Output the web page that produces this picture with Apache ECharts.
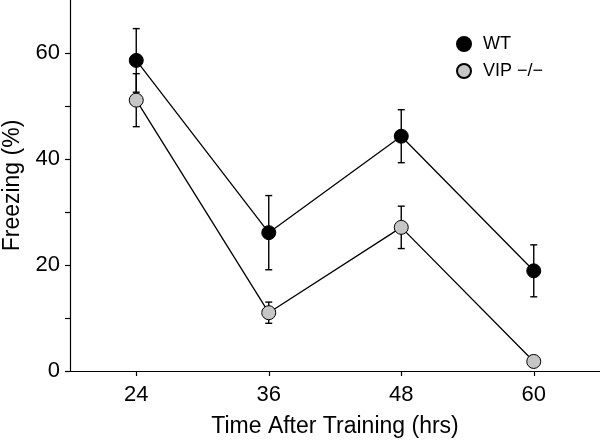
<!DOCTYPE html>
<html>
<head>
<meta charset="utf-8">
<script src="https://cdn.jsdelivr.net/npm/echarts@6/dist/echarts.min.js"></script>
<style>html,body{margin:0;padding:0;background:#fff}#c{width:600px;height:441px}</style>
</head>
<body>
<div id="c"></div>
<script>
const hours = [24, 36, 48, 60];
const wtMean = [58.6, 26.1, 44.3, 18.9];
const wtErr = [6.0, 7.0, 5.0, 4.9];
const vipMean = [51.1, 11.0, 27.1, 1.8];
const vipErr = [5.0, 2.0, 4.0, 0];
const xTicks = [24, 36, 48, 60];
const yTicks = [0, 10, 20, 30, 40, 50, 60];
const yLabels = [0, 20, 40, 60];

const FONT = 'Liberation Sans, Arial, sans-serif';
const chart = echarts.init(document.getElementById('c'), null, {renderer: 'canvas'});

function errData(mean, err) { return hours.map((h, i) => [h, mean[i], err[i]]); }
function errRender(params, api) {
  const x = api.value(0), m = api.value(1), e = api.value(2);
  if (!e) return null;
  const top = api.coord([x, m + e]);
  const bot = api.coord([x, m - e]);
  const hw = 3.5;
  const st = {stroke: '#000', lineWidth: 1.4};
  return {type: 'group', children: [
    {type: 'line', shape: {x1: top[0], y1: top[1], x2: bot[0], y2: bot[1]}, style: st},
    {type: 'line', shape: {x1: top[0] - hw, y1: top[1], x2: top[0] + hw, y2: top[1]}, style: st},
    {type: 'line', shape: {x1: bot[0] - hw, y1: bot[1], x2: bot[0] + hw, y2: bot[1]}, style: st}
  ]};
}

chart.setOption({
  animation: false,
  backgroundColor: '#fff',
  grid: {left: 70, right: 0, top: 0, bottom: 70, containLabel: false, outerBoundsMode: 'none'},
  legend: {
    orient: 'vertical', left: 456, top: 35, padding: 0, itemWidth: 14, itemHeight: 14, itemGap: 9,
    textStyle: {fontFamily: FONT, fontSize: 18, color: '#000', padding: [0, 0, 0, 7]},
    data: [{name: 'WT', icon: 'circle'}, {name: 'VIP −/−', icon: 'circle'}]
  },
  xAxis: {
    type: 'value', min: 18, max: 66,
    name: 'Time After Training (hrs)', nameLocation: 'middle', nameGap: 44,
    nameTextStyle: {fontFamily: FONT, fontSize: 23, color: '#000'},
    axisLine: {lineStyle: {color: '#000', width: 1.2}},
    axisTick: {show: true, length: 5, customValues: xTicks, lineStyle: {color: '#000', width: 1.2}},
    axisLabel: {customValues: xTicks, margin: 13, fontFamily: FONT, fontSize: 22, color: '#000'},
    splitLine: {show: false}
  },
  yAxis: {
    type: 'value', min: 0, max: 70,
    name: 'Freezing (%)', nameLocation: 'middle', nameGap: 46,
    nameTextStyle: {fontFamily: FONT, fontSize: 23, color: '#000'},
    axisLine: {show: true, lineStyle: {color: '#000', width: 1.2}},
    axisTick: {show: true, length: 5, customValues: yTicks, lineStyle: {color: '#000', width: 1.2}},
    axisLabel: {customValues: yLabels, margin: 10, fontFamily: FONT, fontSize: 22, color: '#000'},
    splitLine: {show: false}
  },
  series: [
    {type: 'custom', name: 'wtErr', data: errData(wtMean, wtErr), renderItem: errRender, z: 1, silent: true},
    {type: 'custom', name: 'vipErr', data: errData(vipMean, vipErr), renderItem: errRender, z: 1, silent: true},
    {
      type: 'line', name: 'WT', data: hours.map((h, i) => [h, wtMean[i]]), z: 3,
      symbol: 'circle', symbolSize: 14, showAllSymbol: true,
      lineStyle: {color: '#000', width: 1.3},
      itemStyle: {color: '#000', borderColor: '#000', borderWidth: 1}
    },
    {
      type: 'line', name: 'VIP −/−', data: hours.map((h, i) => [h, vipMean[i]]), z: 3,
      symbol: 'circle', symbolSize: 14, showAllSymbol: true,
      lineStyle: {color: '#000', width: 1.3},
      itemStyle: {color: '#c6c6c6', borderColor: '#000', borderWidth: 1}
    }
  ]
});
</script>
</body>
</html>
